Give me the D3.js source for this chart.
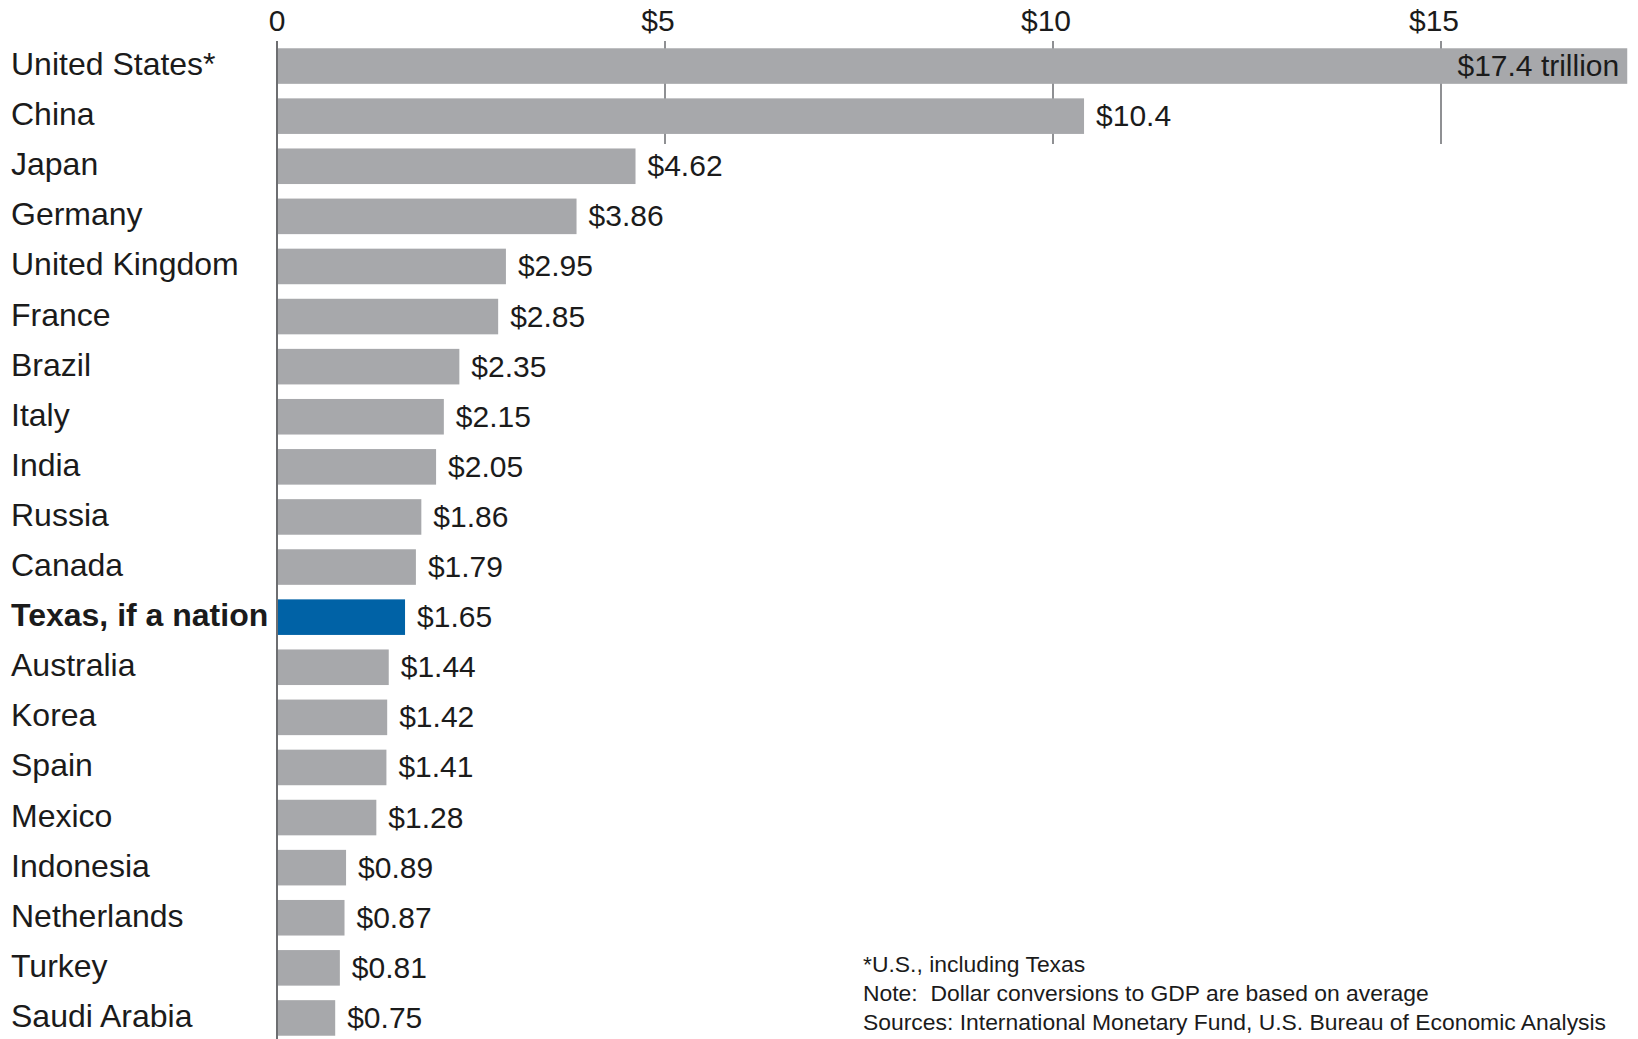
<!DOCTYPE html>
<html>
<head>
<meta charset="utf-8">
<script src="https://cdn.jsdelivr.net/npm/d3@7"></script>
<style>
  html, body { margin: 0; padding: 0; background: #ffffff; }
  svg { display: block; font-family: "Liberation Sans", Arial, Helvetica, sans-serif; }
</style>
</head>
<body>
<svg id="chart" width="1638" height="1039"></svg>
<script>
// GDP in trillions of US dollars
const countries = [
  "United States*", "China", "Japan", "Germany", "United Kingdom", "France",
  "Brazil", "Italy", "India", "Russia", "Canada", "Texas, if a nation",
  "Australia", "Korea", "Spain", "Mexico", "Indonesia", "Netherlands",
  "Turkey", "Saudi Arabia"
];
const gdp = [
  17.4, 10.4, 4.62, 3.86, 2.95, 2.85,
  2.35, 2.15, 2.05, 1.86, 1.79, 1.65,
  1.44, 1.42, 1.41, 1.28, 0.89, 0.87,
  0.81, 0.75
];
const valueLabels = [
  "$17.4 trillion", "$10.4", "$4.62", "$3.86", "$2.95", "$2.85",
  "$2.35", "$2.15", "$2.05", "$1.86", "$1.79", "$1.65",
  "$1.44", "$1.42", "$1.41", "$1.28", "$0.89", "$0.87",
  "$0.81", "$0.75"
];
const highlighted = "Texas, if a nation";
const tickValues = [0, 5, 10, 15];
const tickLabels = ["0", "$5", "$10", "$15"];
const footnotes = [
  "*U.S., including Texas",
  "Note:  Dollar conversions to GDP are based on average",
  "Sources: International Monetary Fund, U.S. Bureau of Economic Analysis"
];

const rows = countries.map((c, i) => ({ name: c, value: gdp[i], label: valueLabels[i] }));

const svg = d3.select("#chart");
const GRAY = "#a7a8ab", BLUE = "#0062a6", INK = "#1b1b1b";

const x = d3.scaleLinear().domain([0, 15]).range([277, 1441]);
const y = d3.scaleBand()
  .domain(countries)
  .range([41, 1043])
  .paddingInner(0.29)
  .paddingOuter(0.145);

// gridlines at the upper ticks, drawn behind bars
svg.append("g")
  .selectAll("line")
  .data(tickValues.filter(v => v > 0))
  .join("line")
  .attr("x1", d => x(d)).attr("x2", d => x(d))
  .attr("y1", 41).attr("y2", 144)
  .attr("stroke", "#8f9093")
  .attr("stroke-width", 2);

// tick labels; the numeral sits centred on its tick, the "$" hangs left
const tickG = svg.append("g")
  .attr("font-size", 30)
  .attr("fill", INK);
tickG.selectAll("text")
  .data(tickValues)
  .join("text")
  .attr("x", d => x(d))
  .attr("y", 31)
  .attr("text-anchor", "middle")
  .attr("dx", (d, i) => tickLabels[i].startsWith("$") ? -7 : 0)
  .text((d, i) => tickLabels[i]);

// bars
svg.append("g")
  .selectAll("rect")
  .data(rows)
  .join("rect")
  .attr("x", x(0))
  .attr("y", d => y(d.name))
  .attr("width", d => x(d.value) - x(0))
  .attr("height", y.bandwidth())
  .attr("fill", d => d.name === highlighted ? BLUE : GRAY);

// vertical baseline axis
svg.append("line")
  .attr("x1", x(0)).attr("x2", x(0))
  .attr("y1", 41).attr("y2", 1039)
  .attr("stroke", "#6d6e71")
  .attr("stroke-width", 2);

// category labels
svg.append("g")
  .selectAll("text")
  .data(rows)
  .join("text")
  .attr("x", 11)
  .attr("y", d => y(d.name) + y.bandwidth() / 2 + 9)
  .attr("font-size", 32)
  .attr("font-weight", d => d.name === highlighted ? "bold" : "normal")
  .attr("fill", INK)
  .text(d => d.name);

// value labels: inside the first (widest) bar, outside the others
svg.append("g")
  .selectAll("text")
  .data(rows)
  .join("text")
  .attr("x", (d, i) => i === 0 ? x(d.value) - 8 : x(d.value) + 12)
  .attr("y", d => y(d.name) + y.bandwidth() / 2 + 10)
  .attr("text-anchor", (d, i) => i === 0 ? "end" : "start")
  .attr("font-size", 30)
  .attr("fill", INK)
  .text(d => d.label);

// footnotes
svg.append("g")
  .selectAll("text")
  .data(footnotes)
  .join("text")
  .attr("x", 863)
  .attr("y", (d, i) => 972 + i * 29)
  .attr("font-size", 22.9)
  .attr("fill", INK)
  .attr("xml:space", "preserve")
  .style("white-space", "pre")
  .text(d => d);
</script>
</body>
</html>
